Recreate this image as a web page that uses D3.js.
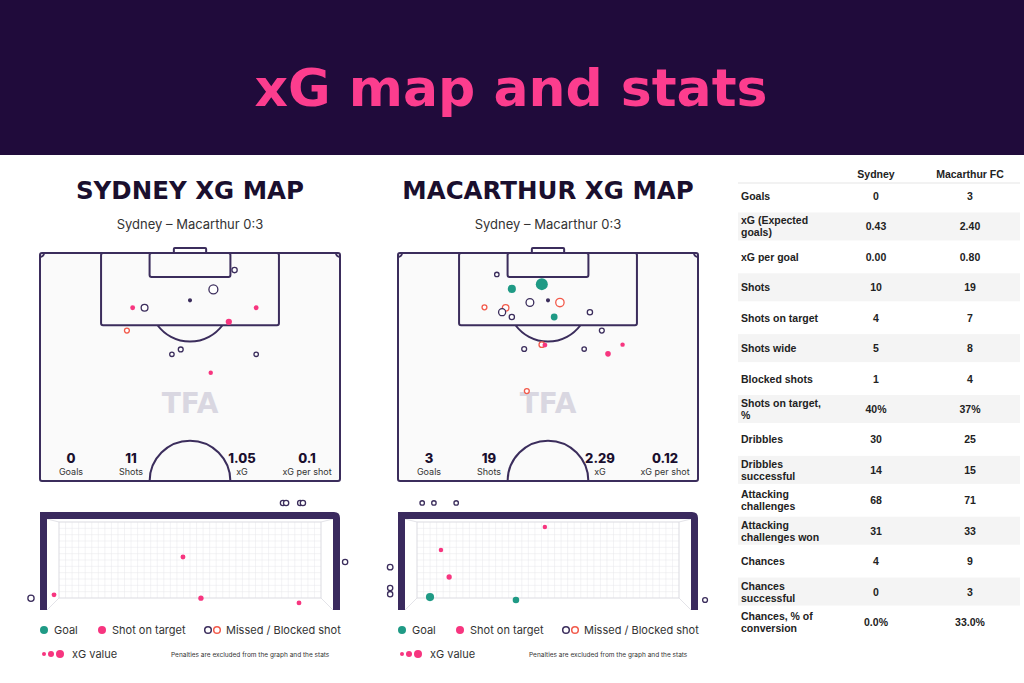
<!DOCTYPE html>
<html><head><meta charset="utf-8">
<script src="https://cdn.jsdelivr.net/npm/d3@7"></script>
<style>body{margin:0;background:#fff}svg{display:block}</style>
</head><body>
<script>
// ---- data ----
const teams = ["SYDNEY XG MAP","MACARTHUR XG MAP"];
const subtitle = "Sydney – Macarthur 0:3";
const summaryLabels = ["Goals","Shots","xG","xG per shot"];
const summarySydney = ["0","11","1.05","0.1"];
const summaryMacarthur = ["3","19","2.29","0.12"];
// shots: [x m across, y m from goal line, xG, type] type: goal|target|missed|blocked
const shotsSydney = [
 [44.1,3.9,0.05,"missed"],[39.3,8.3,0.2,"missed"],[34.0,10.8,0.005,"missed"],
 [21.0,12.5,0.04,"target"],[23.7,12.5,0.1,"missed"],[49.0,12.5,0.04,"target"],
 [42.8,15.7,0.08,"target"],[19.7,17.7,0.04,"blocked"],[31.9,22.0,0.04,"missed"],
 [29.9,23.1,0.03,"missed"],[49.0,23.1,0.03,"missed"],[38.7,27.3,0.03,"target"]];
const shotsMacarthur = [
 [22.4,4.9,0.03,"missed"],[25.8,8.2,0.16,"goal"],[32.6,7.1,0.4,"goal"],
 [34.0,10.8,0.005,"missed"],[29.9,11.3,0.14,"missed"],[36.7,11.3,0.17,"blocked"],
 [19.6,12.4,0.04,"blocked"],[24.4,12.5,0.09,"blocked"],[23.6,13.5,0.11,"missed"],
 [25.8,14.6,0.05,"missed"],[35.4,14.6,0.1,"goal"],[43.5,13.5,0.05,"missed"],
 [46.2,17.7,0.04,"missed"],[32.6,20.9,0.06,"blocked"],[33.3,21.0,0.04,"target"],
 [28.6,21.9,0.04,"missed"],[42.2,21.9,0.03,"missed"],[50.9,20.9,0.03,"target"],
 [47.6,23.0,0.06,"target"],[29.2,31.5,0.04,"blocked"]];
// goal-mouth: [x m along goal, height m, xG, type]
const goalSydney = [
 [0.18,0.36,0.04,"target"],[3.48,1.40,0.04,"target"],[3.94,0.27,0.05,"target"],[6.45,0.14,0.04,"target"],
 [-0.41,0.27,0.08,"missed"],[7.63,1.26,0.05,"missed"],[6.04,2.88,0.05,"missed"],[6.12,2.88,0.05,"missed"],
 [6.48,2.88,0.05,"missed"],[6.55,2.88,0.05,"missed"]];
const goalMacarthur = [
 [3.58,2.22,0.03,"target"],[0.92,1.59,0.03,"target"],[1.13,0.85,0.05,"target"],
 [0.64,0.30,0.16,"goal"],[2.84,0.22,0.09,"goal"],
 [-0.38,1.12,0.06,"missed"],[-0.38,0.55,0.05,"missed"],[-0.38,0.38,0.05,"missed"],
 [7.68,0.22,0.04,"missed"],[0.44,2.88,0.03,"missed"],[0.74,2.88,0.03,"missed"],[1.31,2.88,0.03,"missed"]];
const tableHeaders = ["Sydney","Macarthur FC"];
const tableLabels = ["Goals","xG (Expected|goals)","xG per goal","Shots","Shots on target","Shots wide","Blocked shots","Shots on target,|%","Dribbles","Dribbles|successful","Attacking|challenges","Attacking|challenges won","Chances","Chances|successful","Chances, % of|conversion"];
const tableSydney = ["0","0.43","0.00","10","4","5","1","40%","30","14","68","31","4","0","0.0%"];
const tableMacarthur = ["3","2.40","0.80","19","7","8","4","37%","25","15","71","33","9","3","33.0%"];

// ---- drawing ----
const W=1024,H=683;
const C={dark:"#200b3b",pink:"#f7357f",green:"#1f9a85",red:"#f25a4b",line:"#3b2d5c",title:"#fc3d8e"};
const svg=d3.select("body").append("svg").attr("width",W).attr("height",H);
svg.append("rect").attr("width",W).attr("height",155).attr("fill",C.dark);
svg.append("text").attr("x",511).attr("y",106).attr("text-anchor","middle").attr("fill",C.title)
 .attr("font-family","'DejaVu Sans', sans-serif").attr("font-weight",700).attr("font-size",52).text("xG map and stats");
const rScale=d3.scaleSqrt().domain([0,0.4]).range([0.8,6]);
const font="Inter, 'Noto Sans', sans-serif";

function drawPanel(i,shots,goalShots,summ){
 const ox=40+i*358;
 const g=svg.append("g");
 g.append("text").attr("x",ox+150).attr("y",199).attr("text-anchor","middle").attr("font-family","'DejaVu Sans', sans-serif")
  .attr("font-weight",700).attr("font-size",24.5).attr("fill","#1a0f2e").text(teams[i]);
 g.append("text").attr("x",ox+150).attr("y",229).attr("text-anchor","middle").attr("font-family",font)
  .attr("font-size",13).attr("fill","#333").text(subtitle);
 const x=d3.scaleLinear().domain([0,68]).range([ox,ox+300]);
 const y=d3.scaleLinear().domain([0,52]).range([253,481]);
 const st={fill:"none",stroke:C.line,"stroke-width":2};
 const S=s=>{for(const k in st)s.attr(k,st[k]);return s;};
 g.append("rect").attr("x",x(0)).attr("y",y(0)).attr("width",x(68)-x(0)).attr("height",y(52)-y(0)).attr("rx",2).attr("fill","#fafafa").attr("stroke",C.line).attr("stroke-width",2);
 S(g.append("rect")).attr("x",x(34-20.16)).attr("y",y(0)).attr("width",x(40.32)-x(0)).attr("height",y(16.5)-y(0)).attr("rx",2);
 S(g.append("rect")).attr("x",x(34-9.16)).attr("y",y(0)).attr("width",x(18.32)-x(0)).attr("height",y(5.5)-y(0)).attr("rx",2);
 S(g.append("rect")).attr("x",x(34-3.66)).attr("y",y(0)-5).attr("width",x(7.32)-x(0)).attr("height",5).attr("rx",1);
 const k=x(1)-x(0);
 const a=Math.acos(5.5/9.15);
 S(g.append("path")).attr("d",d3.arc().innerRadius(9.15*k).outerRadius(9.15*k).startAngle(Math.PI-a).endAngle(Math.PI+a)()).attr("transform",`translate(${x(34)},${y(11)})`);
 S(g.append("path")).attr("d",d3.arc().innerRadius(9.15*k).outerRadius(9.15*k).startAngle(-Math.PI/2).endAngle(Math.PI/2)()).attr("transform",`translate(${x(34)},${y(52)})`);
 [[0,Math.PI/2,Math.PI],[68,Math.PI,1.5*Math.PI]].forEach(([cx,s,e])=>S(g.append("path")).attr("d",d3.arc().innerRadius(4).outerRadius(4).startAngle(s).endAngle(e)()).attr("transform",`translate(${x(cx)},${y(0)})`));
 g.append("text").attr("x",x(34)).attr("y",413).attr("text-anchor","middle").attr("font-family","'DejaVu Sans', sans-serif").attr("font-weight",700).attr("font-size",28).attr("fill","#d9d7e1").text("TFA");
 const sx=[31,91,202,267];
 summ.forEach((v,j)=>{
  g.append("text").attr("x",ox+sx[j]).attr("y",463).attr("text-anchor","middle").attr("font-family",font).attr("font-weight",800).attr("font-size",13).attr("fill","#1a0f2e").text(v);
  g.append("text").attr("x",ox+sx[j]).attr("y",475).attr("text-anchor","middle").attr("font-family",font).attr("font-size",9).attr("fill","#333").text(summaryLabels[j]);
 });
 const fill=t=>t==="goal"?C.green:t==="target"?C.pink:"#fff";
 const stroke=t=>t==="goal"?C.green:t==="target"?C.pink:t==="blocked"?C.red:C.line;
 g.selectAll(".s").data(shots).join("circle").attr("cx",d=>x(d[0])).attr("cy",d=>y(d[1])).attr("r",d=>rScale(d[2]))
  .attr("fill",d=>d[3]==="missed"&&d[2]<0.01?C.line:fill(d[3])).attr("stroke",d=>stroke(d[3])).attr("stroke-width",d=>d[3]==="goal"||d[3]==="target"?0:1.3);
 // goal mouth
 const gx=d3.scaleLinear().domain([0,7.32]).range([ox+7,ox+293]);
 const gy=d3.scaleLinear().domain([0,2.44]).range([608,519]);
 const bx0=ox+19,bx1=ox+281,by0=522,by1=598;
 const grid=g.append("g").attr("stroke","#e6e6ea").attr("stroke-width",0.5);
 d3.range(bx0,bx1+0.1,(bx1-bx0)/40).forEach(v=>grid.append("line").attr("x1",v).attr("x2",v).attr("y1",by0).attr("y2",by1));
 d3.range(by0,by1+0.1,(by1-by0)/12).forEach(v=>grid.append("line").attr("x1",bx0).attr("x2",bx1).attr("y1",v).attr("y2",v));
 const sl=g.append("g").attr("stroke","#dcdce2").attr("stroke-width",0.8);
 sl.append("line").attr("x1",ox+7).attr("y1",519).attr("x2",bx0).attr("y2",by0);
 sl.append("line").attr("x1",ox+293).attr("y1",519).attr("x2",bx1).attr("y2",by0);
 sl.append("line").attr("x1",ox+7).attr("y1",610).attr("x2",bx0).attr("y2",by1);
 sl.append("line").attr("x1",ox+293).attr("y1",610).attr("x2",bx1).attr("y2",by1);
 sl.append("rect").attr("x",bx0).attr("y",by0).attr("width",bx1-bx0).attr("height",by1-by0).attr("fill","none");
 g.append("path").attr("d",`M${ox+3.5},610 V${515.5} Q${ox+3.5},515.5 ${ox+6},515.5 H${ox+294} Q${ox+296.5},515.5 ${ox+296.5},518 V610`)
  .attr("fill","none").attr("stroke","#3a2a5e").attr("stroke-width",7);
 g.selectAll(".gs").data(goalShots).join("circle").attr("cx",d=>gx(d[0])).attr("cy",d=>gy(d[1])).attr("r",d=>rScale(d[2]))
  .attr("fill",d=>fill(d[3])).attr("stroke",d=>stroke(d[3])).attr("stroke-width",d=>d[3]==="goal"||d[3]==="target"?0:1.3);
 // legend
 const L=g.append("g").attr("font-family",font).attr("fill","#333");
 L.append("circle").attr("cx",ox+4).attr("cy",630).attr("r",4).attr("fill",C.green);
 L.append("text").attr("x",ox+14).attr("y",634).attr("font-size",11).text("Goal");
 L.append("circle").attr("cx",ox+62).attr("cy",630).attr("r",4).attr("fill",C.pink);
 L.append("text").attr("x",ox+72).attr("y",634).attr("font-size",11).text("Shot on target");
 L.append("circle").attr("cx",ox+168).attr("cy",630).attr("r",3.3).attr("fill","none").attr("stroke",C.line).attr("stroke-width",1.5);
 L.append("circle").attr("cx",ox+177).attr("cy",630).attr("r",3.3).attr("fill","none").attr("stroke",C.red).attr("stroke-width",1.5);
 L.append("text").attr("x",ox+186).attr("y",634).attr("font-size",11).text("Missed / Blocked shot");
 [[4,2],[11,3],[20,4]].forEach(([dx,r])=>L.append("circle").attr("cx",ox+dx).attr("cy",654).attr("r",r).attr("fill",C.pink));
 L.append("text").attr("x",ox+32).attr("y",658).attr("font-size",11).text("xG value");
 L.append("text").attr("x",ox+131).attr("y",657).attr("font-size",6.5).text("Penalties are excluded from the graph and the stats");
}
drawPanel(0,shotsSydney,goalSydney,summarySydney);
drawPanel(1,shotsMacarthur,goalMacarthur,summaryMacarthur);

// table
const T=svg.append("g").attr("font-family","Arial, 'Liberation Sans', sans-serif").attr("font-weight","bold").attr("font-size",10.5).attr("fill","#222");
T.append("text").attr("x",876).attr("y",178).attr("text-anchor","middle").text(tableHeaders[0]);
T.append("text").attr("x",970).attr("y",178).attr("text-anchor","middle").text(tableHeaders[1]);
T.append("line").attr("x1",738).attr("x2",1020).attr("y1",183).attr("y2",183).attr("stroke","#e5e5e5");
const ry=d3.scaleLinear().domain([0,14]).range([196,622]);
tableLabels.forEach((lab,i)=>{
 const cy=ry(i);
 if(i%2===1) T.append("rect").attr("x",738).attr("y",cy-14).attr("width",282).attr("height",28).attr("fill","#f4f4f4");
 const parts=lab.split("|");
 parts.forEach((p,j)=>T.append("text").attr("x",741).attr("y",cy+4+(j-(parts.length-1)/2)*12).text(p));
 T.append("text").attr("x",876).attr("y",cy+4).attr("text-anchor","middle").text(tableSydney[i]);
 T.append("text").attr("x",970).attr("y",cy+4).attr("text-anchor","middle").text(tableMacarthur[i]);
});
</script>
</body></html>
